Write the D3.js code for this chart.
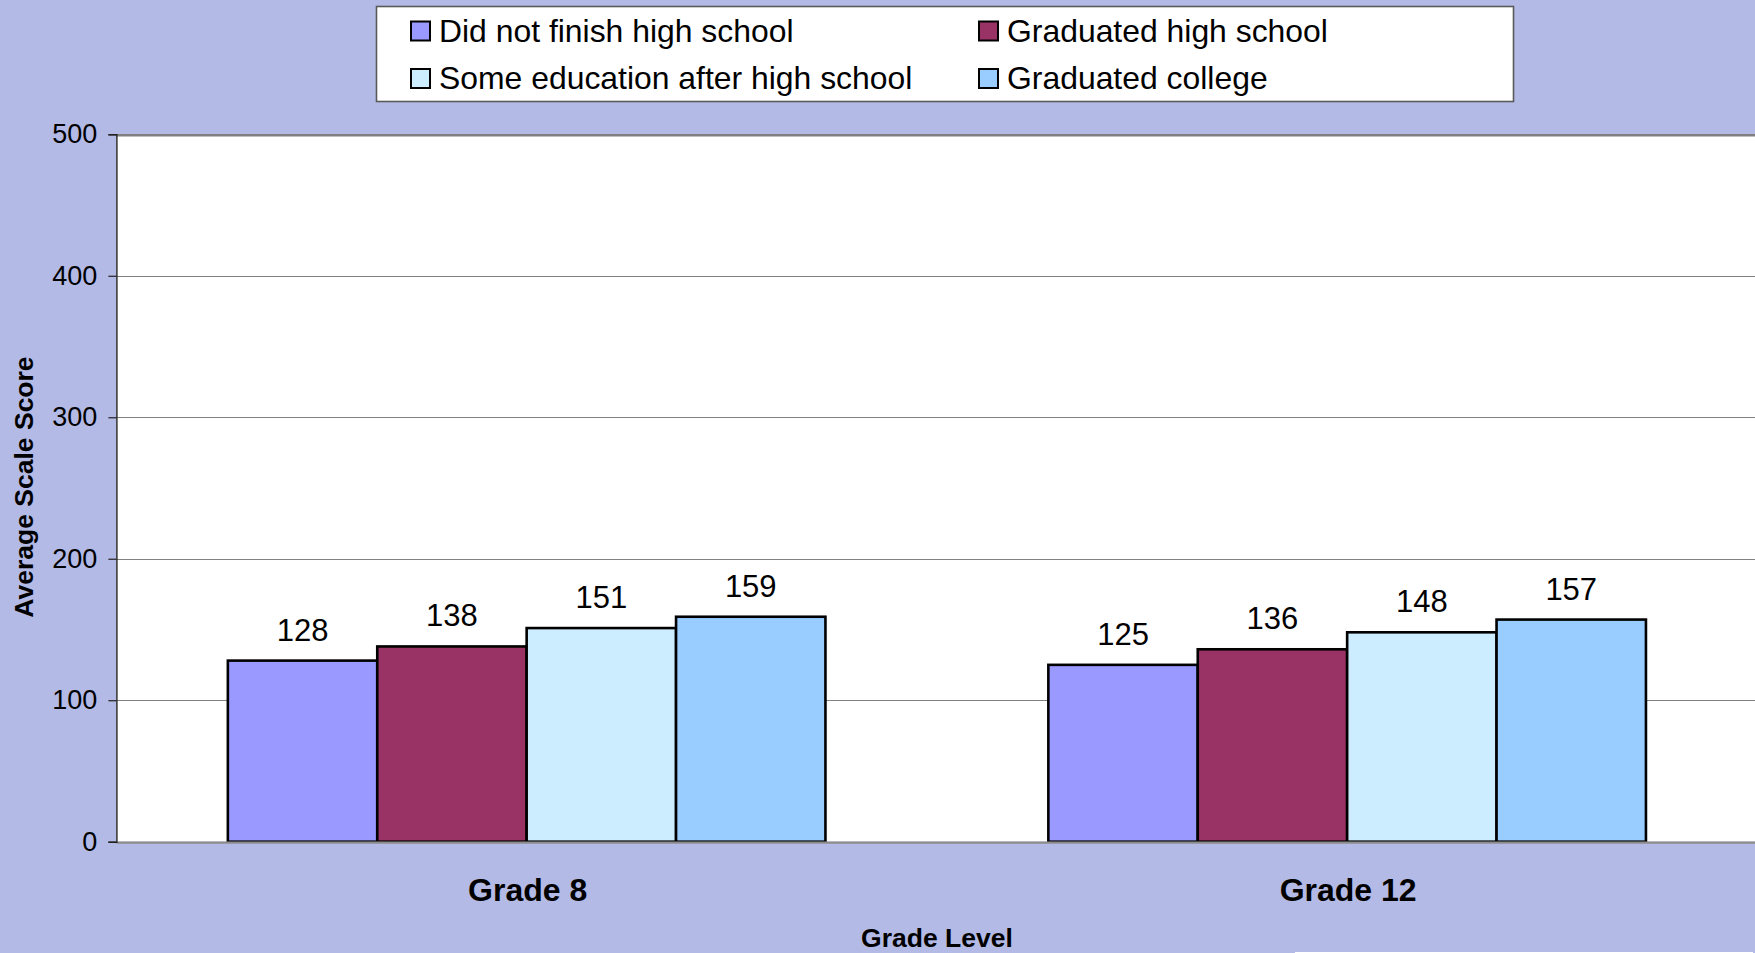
<!DOCTYPE html>
<html>
<head>
<meta charset="utf-8">
<script src="https://cdn.jsdelivr.net/npm/d3@7"></script>
<style>
  html, body { margin: 0; padding: 0; background: #B3BAE6; overflow: hidden; }
  svg { display: block; font-family: "Liberation Sans", Arial, sans-serif; }
</style>
</head>
<body>
<svg id="chart" width="1755" height="953"></svg>
<script>
// Average scale score by parents' highest education level
const grades = ["Grade 8", "Grade 12"];
const seriesNames = [
  "Did not finish high school",
  "Graduated high school",
  "Some education after high school",
  "Graduated college"
];
const seriesColors = ["#9999FF", "#993366", "#CCECFF", "#99CCFF"];
const didNotFinish = [128, 125];
const graduatedHS = [138, 136];
const someAfterHS = [151, 148];
const graduatedCollege = [159, 157];
const yTicks = [0, 100, 200, 300, 400, 500];

const seriesValues = [didNotFinish, graduatedHS, someAfterHS, graduatedCollege];

const W = 1755, H = 953;
const plot = { left: 116.4, right: 1757.4, top: 134.3, bottom: 841.7 };

const svg = d3.select("#chart");

svg.append("rect").attr("width", W).attr("height", H).attr("fill", "#B3BAE6");

// Plot area
svg.append("rect")
  .attr("x", plot.left).attr("y", plot.top)
  .attr("width", plot.right - plot.left).attr("height", plot.bottom - plot.top)
  .attr("fill", "#FFFFFF");

const y = d3.scaleLinear().domain([0, 500]).range([plot.bottom, plot.top]);
const x0 = d3.scaleBand().domain(grades).range([plot.left, plot.right]).padding(0);
const x1 = d3.scaleBand().domain(seriesNames).range([0, x0.bandwidth()])
  .paddingInner(0).paddingOuter(0.746);

// Gridlines
svg.append("g")
  .selectAll("line")
  .data(yTicks.filter(t => t > 0 && t < 500))
  .join("line")
  .attr("x1", plot.left).attr("x2", plot.right)
  .attr("y1", d => Math.round(y(d)) + 0.5).attr("y2", d => Math.round(y(d)) + 0.5)
  .attr("stroke", "#808080").attr("stroke-width", 1);

// Top border of plot area
svg.append("line")
  .attr("x1", plot.left).attr("x2", plot.right)
  .attr("y1", y(500) + 1).attr("y2", y(500) + 1)
  .attr("stroke", "#808080").attr("stroke-width", 2.4);

// Bars
const rows = [];
grades.forEach((g, gi) => {
  seriesNames.forEach((s, si) => {
    rows.push({ grade: g, series: s, value: seriesValues[si][gi], color: seriesColors[si] });
  });
});

const barG = svg.append("g");
barG.selectAll("rect")
  .data(rows)
  .join("rect")
  .attr("x", d => x0(d.grade) + x1(d.series))
  .attr("y", d => y(d.value))
  .attr("width", x1.bandwidth())
  .attr("height", d => y(0) - y(d.value))
  .attr("fill", d => d.color)
  .attr("stroke", "#000")
  .attr("stroke-width", 2.6);

// Value labels
svg.append("g")
  .selectAll("text")
  .data(rows)
  .join("text")
  .attr("x", d => x0(d.grade) + x1(d.series) + x1.bandwidth() / 2)
  .attr("y", d => y(d.value) - 20)
  .attr("text-anchor", "middle")
  .attr("font-size", 31)
  .attr("fill", "#000")
  .text(d => d.value);

// Category axis line
svg.append("line")
  .attr("x1", plot.left).attr("x2", plot.right)
  .attr("y1", plot.bottom + 1).attr("y2", plot.bottom + 1)
  .attr("stroke", "#8C8C8C").attr("stroke-width", 2.2);

// Value axis
const yAxis = d3.axisLeft(y).tickValues(yTicks).tickSize(8).tickPadding(11).tickFormat(d3.format("d"));
const yAxisG = svg.append("g")
  .attr("transform", `translate(${plot.left},0)`)
  .call(yAxis);
yAxisG.select(".domain").attr("stroke", "#222").attr("stroke-width", 1.4);
yAxisG.selectAll(".tick line").attr("stroke", "#222").attr("stroke-width", 1.2);
yAxisG.selectAll(".tick text")
  .attr("font-size", 27)
  .attr("font-family", "Liberation Sans, Arial, sans-serif")
  .attr("fill", "#000");

// Category labels
svg.append("g")
  .selectAll("text")
  .data(grades)
  .join("text")
  .attr("x", d => x0(d) + x0.bandwidth() / 2 + 1)
  .attr("y", 901)
  .attr("text-anchor", "middle")
  .attr("font-size", 32)
  .attr("font-weight", "bold")
  .text(d => d);

// Axis titles
svg.append("text")
  .attr("x", (plot.left + plot.right) / 2)
  .attr("y", 947)
  .attr("text-anchor", "middle")
  .attr("font-size", 26.5)
  .attr("font-weight", "bold")
  .text("Grade Level");

svg.append("text")
  .attr("transform", "translate(33,487) rotate(-90)")
  .attr("text-anchor", "middle")
  .attr("font-size", 26.5)
  .attr("font-weight", "bold")
  .text("Average Scale Score");

// Legend
const legend = svg.append("g");
legend.append("rect")
  .attr("x", 376.5).attr("y", 6.5)
  .attr("width", 1137).attr("height", 95)
  .attr("fill", "#FFFFFF")
  .attr("stroke", "#5A5A5A").attr("stroke-width", 1.6);

const legendPos = [
  { x: 411, y: 21.5 }, { x: 979, y: 21.5 },
  { x: 411, y: 69 }, { x: 979, y: 69 }
];
const items = legend.selectAll("g.item")
  .data(seriesNames)
  .join("g")
  .attr("class", "item")
  .attr("transform", (d, i) => `translate(${legendPos[i].x},${legendPos[i].y})`);
items.append("rect")
  .attr("width", 19).attr("height", 19)
  .attr("fill", (d, i) => seriesColors[i])
  .attr("stroke", "#000").attr("stroke-width", 2);
items.append("text")
  .attr("x", 28).attr("y", 20)
  .attr("font-size", 31.9)
  .attr("fill", "#000")
  .text(d => d);

// Thin strip along the bottom edge
svg.append("rect")
  .attr("x", 1295).attr("y", 952).attr("width", 458).attr("height", 1)
  .attr("fill", "#FFFFFF");
</script>
</body>
</html>
